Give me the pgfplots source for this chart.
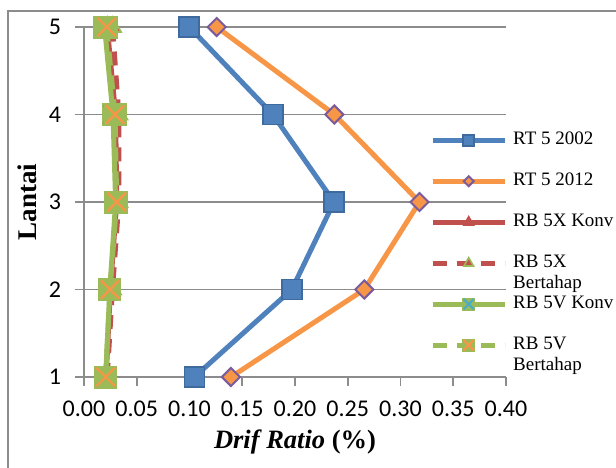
\documentclass[border=0pt]{standalone}
\usepackage{fontspec}
\setmainfont{Liberation Serif}
\newfontfamily\calib{Carlito}
\usepackage{pgfplots}
\pgfplotsset{compat=1.18}

\definecolor{xlblue}{HTML}{4F81BD}
\definecolor{xlblueD}{HTML}{3F6A9E}
\definecolor{xlorange}{HTML}{F79646}
\definecolor{xlpurple}{HTML}{7A5C9E}
\definecolor{xlred}{HTML}{C0504D}
\definecolor{xlgreen}{HTML}{9BBB59}
\definecolor{xlteal}{HTML}{4BACC6}
\definecolor{gridgray}{HTML}{8C8C8C}

% green square marker with a coloured diagonal cross
\newcommand\greensqx[1]{%
  \pgfsetdash{}{0pt}%
  \pgfpathrectangle{\pgfpoint{-\pgfplotmarksize}{-\pgfplotmarksize}}{\pgfpoint{2\pgfplotmarksize}{2\pgfplotmarksize}}%
  \pgfsetfillcolor{xlgreen}\pgfusepathqfill
  \pgfsetstrokecolor{#1}\pgfsetlinewidth{1.1bp}%
  \pgfpathmoveto{\pgfpoint{-0.8\pgfplotmarksize}{-0.8\pgfplotmarksize}}%
  \pgfpathlineto{\pgfpoint{0.8\pgfplotmarksize}{0.8\pgfplotmarksize}}%
  \pgfpathmoveto{\pgfpoint{-0.8\pgfplotmarksize}{0.8\pgfplotmarksize}}%
  \pgfpathlineto{\pgfpoint{0.8\pgfplotmarksize}{-0.8\pgfplotmarksize}}%
  \pgfusepathqstroke}
\pgfdeclareplotmark{gsqteal}{\greensqx{xlteal}}
\pgfdeclareplotmark{gsqorange}{\greensqx{xlorange}}

\begin{document}
\begin{tikzpicture}
\useasboundingbox (-42bp,-45.5bp) rectangle (266bp,188.5bp);
\clip (-42bp,-45.5bp) rectangle (266bp,188.5bp);
% chart area frame
\draw[gridgray, line width=1.1bp] (-38bp,-80bp) -- (-38bp,183bp) -- (300bp,183bp);
\begin{axis}[
  scale only axis, width=211bp, height=175bp,
  xmin=0, xmax=0.4, ymin=1, ymax=5,
  xtick={0,0.05,0.1,0.15,0.2,0.25,0.3,0.35,0.4},
  ytick={1,2,3,4,5},
  axis x line*=bottom, axis y line*=left,
  axis line style={gridgray, line width=0.9bp},
  ymajorgrids, major grid style={gridgray, line width=0.9bp},
  tick align=outside, major tick length=4.5bp,
  tick style={gridgray, line width=0.9bp},
  /pgf/number format/assume math mode=true,
  tick label style={font=\calib\fontsize{12bp}{14bp}\selectfont, text=black},
  xticklabel style={yshift=-4bp},
  yticklabel style={xshift=-3.5bp},
  x tick label style={/pgf/number format/.cd, fixed, fixed zerofill, precision=2},
  xlabel={\textbf{\textit{Drif Ratio}} \textbf{(\%)}},
  xlabel style={at={(axis description cs:0.5,-0.2029)}, anchor=base, font=\fontsize{13.25bp}{15bp}\selectfont},
  ylabel={\textbf{Lantai}},
  ylabel style={at={(axis description cs:-0.1123,0.5)}, anchor=base, font=\fontsize{13.5bp}{15bp}\selectfont},
  legend cell align=left,
  legend style={draw=none, fill=none, at={(0.8195,0.702)}, anchor=north west,
    font=\fontsize{9.5bp}{10.5bp}\selectfont, inner sep=0pt, row sep=12bp, column sep=3bp,
    nodes={inner sep=0pt, text height=6.5bp, text depth=2bp}},
  legend image code/.code={\draw[mark repeat=2, mark phase=2, #1, every mark/.append style={scale=0.55}]
    plot coordinates {(0bp,0bp) (18bp,0bp) (36bp,0bp)};},
  every axis plot/.append style={line width=2.5bp},
]
\addplot[xlblue, mark=square*, mark size=5bp, mark options={fill=xlblue, draw=xlblueD, line width=0.8bp}]
  coordinates {(0.1046,1) (0.197,2) (0.237,3) (0.179,4) (0.0998,5)};
\addlegendentry{RT 5 2002}
\addplot[xlorange, mark=square*, mark size=3.2bp, mark options={rotate=45, fill=xlorange, draw=xlpurple, line width=1bp}]
  coordinates {(0.1393,1) (0.2657,2) (0.318,3) (0.2373,4) (0.1258,5)};
\addlegendentry{RT 5 2012}
\addplot[xlred, mark=triangle*, mark size=5bp, mark options={fill=xlred, draw=xlred, line width=0.8bp}]
  coordinates {(0.021,1) (0.025,2) (0.031,3) (0.030,4) (0.022,5)};
\addlegendentry{RB 5X Konv}
\addplot[xlred, dash pattern=on 7bp off 5bp, mark=triangle*, mark size=5bp, mark options={solid, fill=xlred, draw=xlgreen, line width=0.8bp}]
  coordinates {(0.022,1) (0.027,2) (0.033,3) (0.033,4) (0.027,5)};
\addlegendentry{\begin{tabular}[t]{@{}l@{}}RB 5X\\Bertahap\end{tabular}}
\addplot[xlgreen, mark=gsqteal, mark size=5.75bp]
  coordinates {(0.0205,1) (0.0245,2) (0.030,3) (0.0275,4) (0.0195,5)};
\addlegendentry{RB 5V Konv}
\addplot[xlgreen, dash pattern=on 7bp off 5bp, mark=gsqorange, mark size=5.75bp]
  coordinates {(0.0205,1) (0.0246,2) (0.031,3) (0.0294,4) (0.0215,5)};
\addlegendentry{\begin{tabular}[t]{@{}l@{}}RB 5V\\Bertahap\end{tabular}}
\end{axis}
\end{tikzpicture}
\end{document}
